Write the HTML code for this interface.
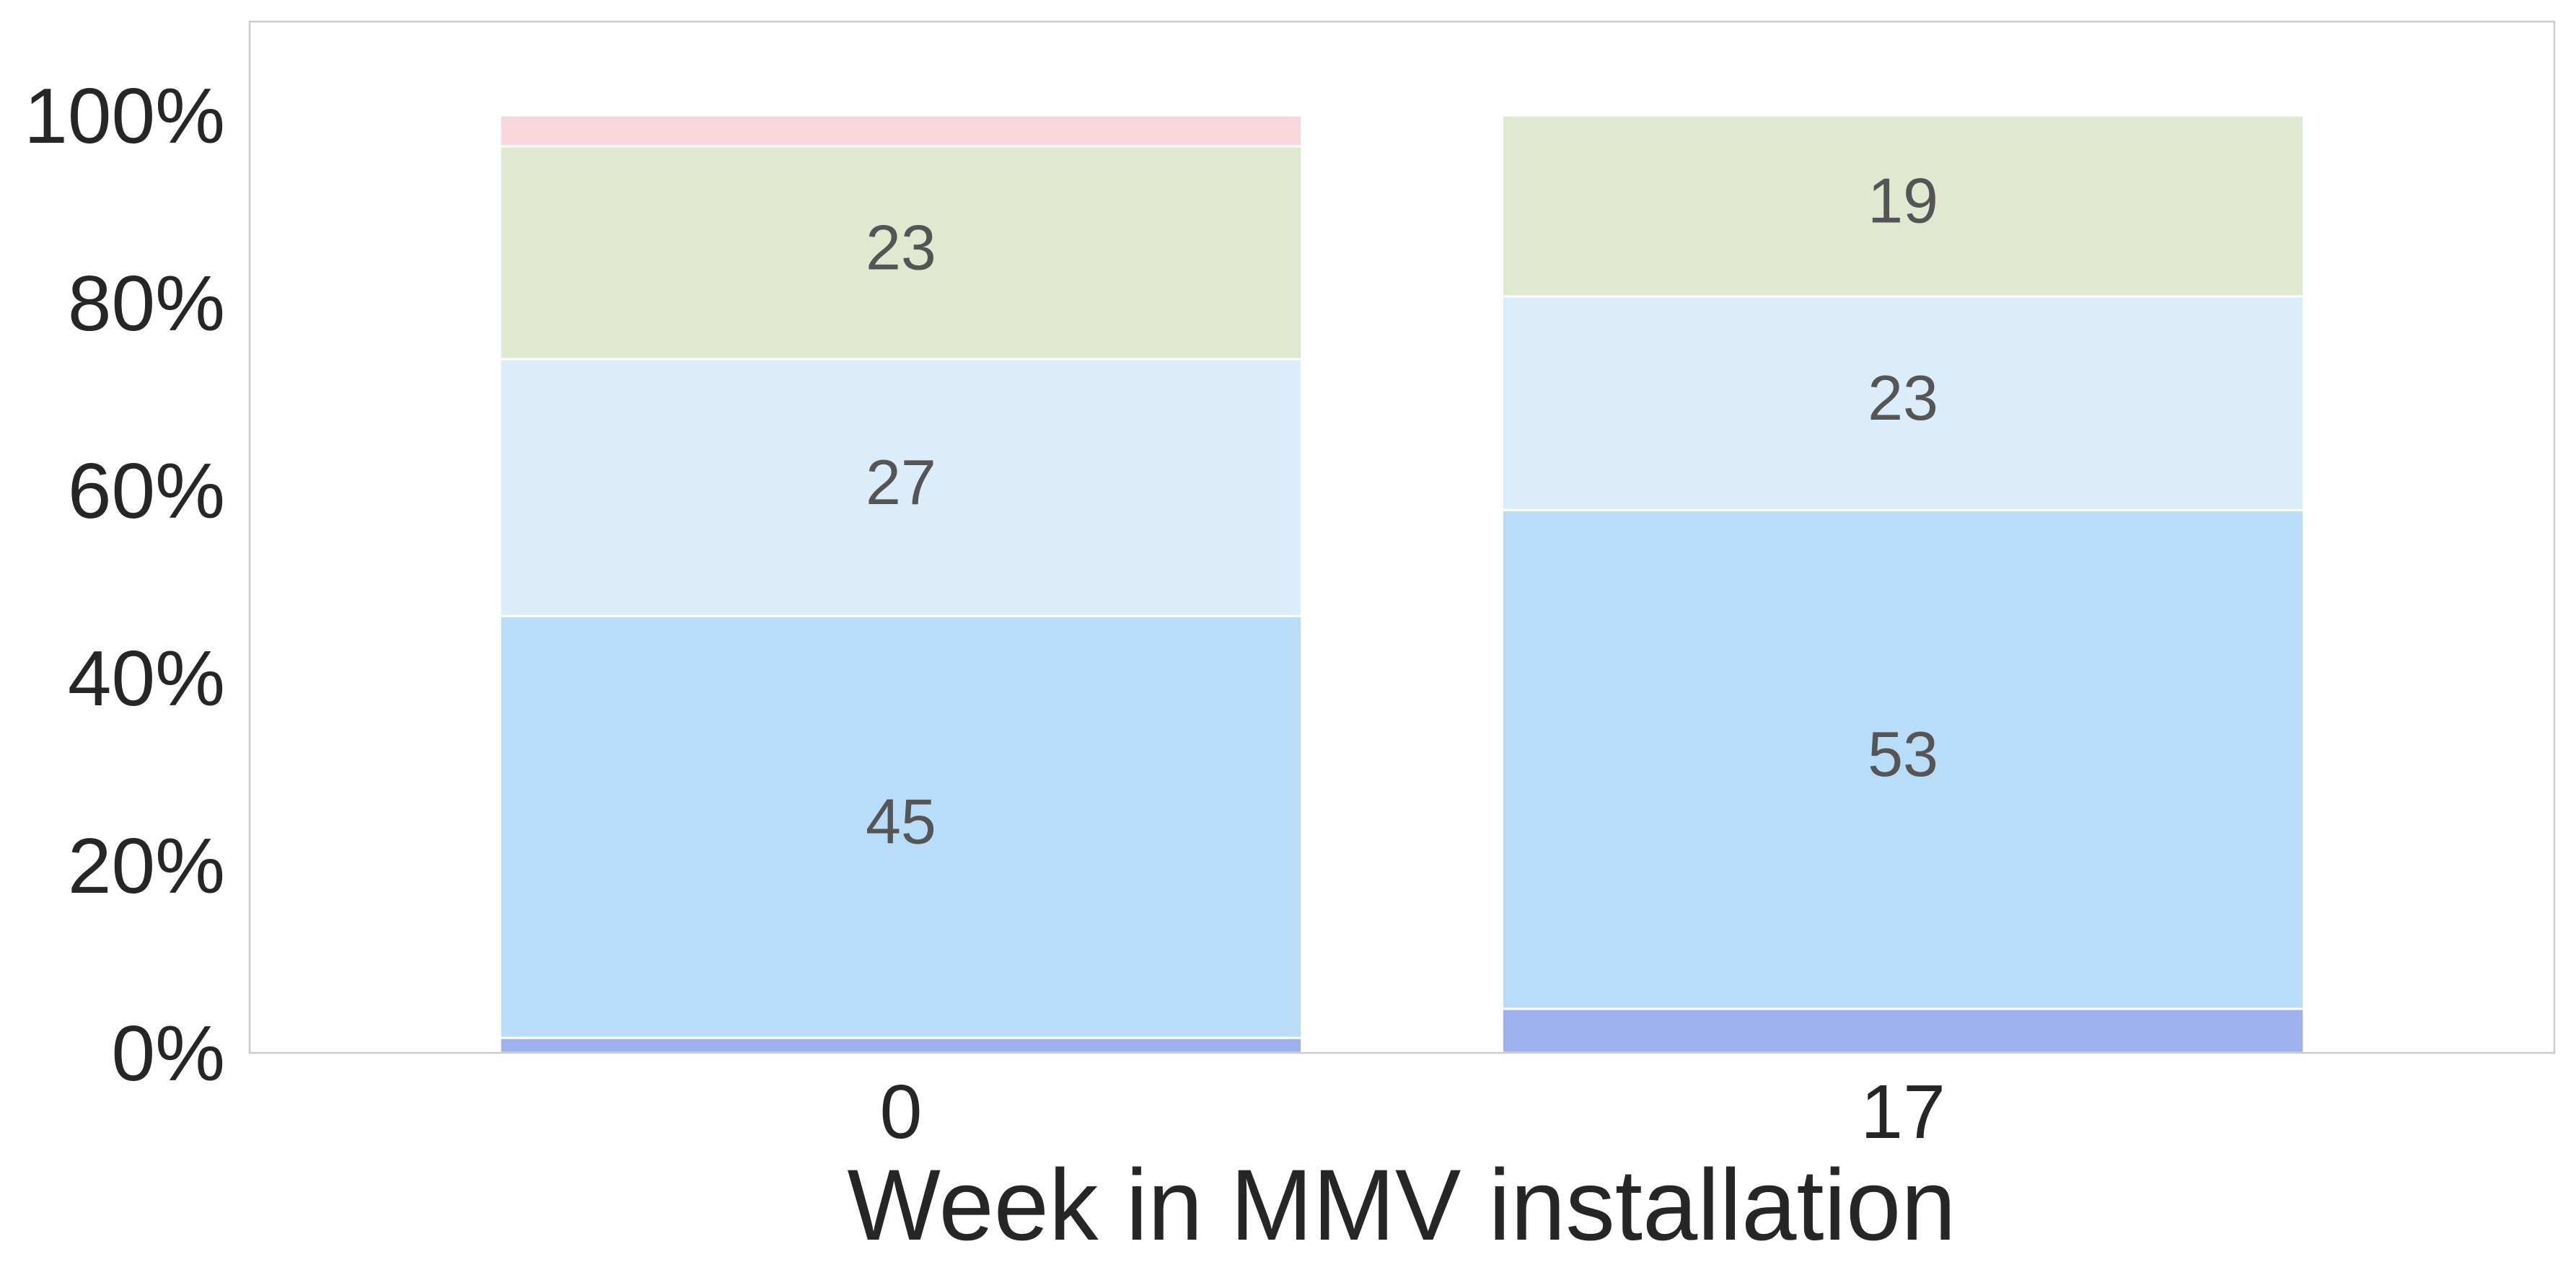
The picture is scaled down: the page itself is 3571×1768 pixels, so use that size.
<!DOCTYPE html>
<html><head><meta charset="utf-8"><style>
html,body{margin:0;padding:0;background:#fff;}
svg{display:block;font-family:"Liberation Sans",sans-serif;}
</style></head><body>
<svg id="chart" width="3571" height="1768" viewBox="0 0 3571 1768" xmlns="http://www.w3.org/2000/svg">
<rect x="346" y="30" width="3195" height="1430" fill="#fff"/>
<g id="bars"></g>
<g id="labels"></g>
<rect x="346" y="30" width="3195" height="1430" fill="none" stroke="#cccccc" stroke-width="2.5"/>
<g id="yticks"></g>
<g id="xticks"></g>
<text x="1943" y="1719" text-anchor="middle" font-size="140" fill="#262626" textLength="1537" lengthAdjust="spacingAndGlyphs">Week in MMV installation</text>
</svg>
<script>
const categories = ["0", "17"];
const seriesBottom = [1.6, 4.7];
const seriesSecond = [45.0, 53.2];
const seriesThird = [27.4, 22.8];
const seriesFourth = [22.7, 19.3];
const seriesTop = [3.3, 0];
const yTickValues = [0, 20, 40, 60, 80, 100];
const yTickLabels = ["0%", "20%", "40%", "60%", "80%", "100%"];
const colors = ["#9db1ee", "#b9dcf8", "#dbedfb", "#e0e9cf", "#f8d7dd"];
const segNames = ["bottom", "second", "third", "fourth", "top"];

const NS = "http://www.w3.org/2000/svg";
const plotL = 346, plotR = 3541, plotT = 30, plotB = 1460;
const xMin = -0.65, xMax = 1.65, yMax = 110;
function xScale(i){ return plotL + (i - xMin) / (xMax - xMin) * (plotR - plotL); }
function yScale(v){ return plotB - v / yMax * (plotB - plotT); }
const barW = xScale(0.8) - xScale(0);

const series = [seriesBottom, seriesSecond, seriesThird, seriesFourth, seriesTop];
const gBars = document.getElementById("bars");
const gLabels = document.getElementById("labels");
categories.forEach((cat, i) => {
  let cum = 0;
  series.forEach((s, k) => {
    const v = s[i];
    if (v > 0) {
      const y0 = yScale(cum), y1 = yScale(cum + v);
      const r = document.createElementNS(NS, "rect");
      r.setAttribute("x", xScale(i) - barW / 2);
      r.setAttribute("y", y1);
      r.setAttribute("width", barW);
      r.setAttribute("height", y0 - y1);
      r.setAttribute("fill", colors[k]);
      r.setAttribute("stroke", "#fff");
      r.setAttribute("stroke-width", "3");
      
      
      gBars.appendChild(r);
      if (v >= 10) {
        const t = document.createElementNS(NS, "text");
        t.setAttribute("x", xScale(i));
        t.setAttribute("y", (y0 + y1) / 2 + 23);
        t.setAttribute("text-anchor", "middle");
        t.setAttribute("font-size", "88");
        t.setAttribute("fill", "#555555");
        t.textContent = Math.round(v);
        
        
        gLabels.appendChild(t);
      }
    }
    cum += v;
  });
});

const gY = document.getElementById("yticks");
yTickValues.forEach((v, j) => {
  const t = document.createElementNS(NS, "text");
  t.setAttribute("x", 312);
  t.setAttribute("y", yScale(v) + 38);
  t.setAttribute("text-anchor", "end");
  t.setAttribute("font-size", "109");
  t.setAttribute("fill", "#262626");
  t.textContent = yTickLabels[j];
  
  
  gY.appendChild(t);
});
const gX = document.getElementById("xticks");
categories.forEach((c, i) => {
  const t = document.createElementNS(NS, "text");
  t.setAttribute("x", xScale(i));
  t.setAttribute("y", 1578);
  t.setAttribute("text-anchor", "middle");
  t.setAttribute("font-size", "106");
  t.setAttribute("fill", "#262626");
  t.textContent = c;
  
  
  gX.appendChild(t);
});
</script>
</body></html>
